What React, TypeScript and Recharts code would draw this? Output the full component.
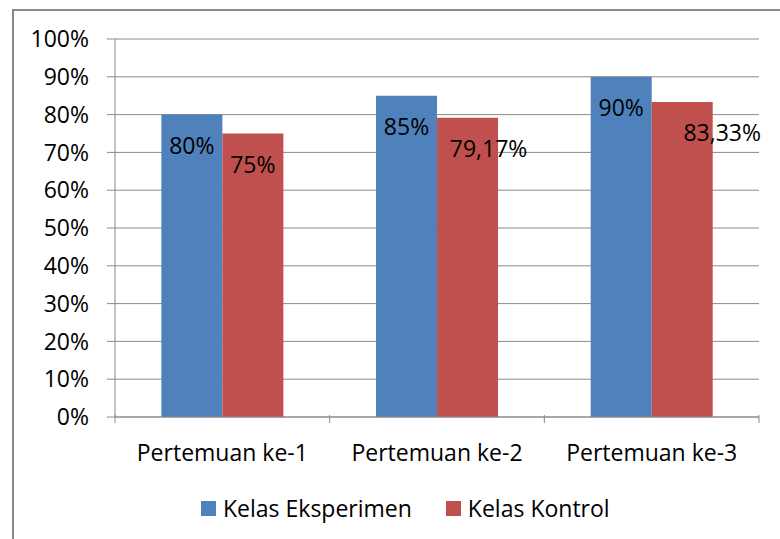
import { BarChart, Bar, XAxis, YAxis, CartesianGrid, Legend, LabelList } from 'recharts';

const categories = ['Pertemuan ke-1', 'Pertemuan ke-2', 'Pertemuan ke-3'];
const kelasEksperimen = [80, 85, 90];
const kelasKontrol = [75, 79.17, 83.33];
const yTicks = [0, 10, 20, 30, 40, 50, 60, 70, 80, 90, 100];

const BLUE = '#4F81BD';
const RED = '#C0504D';
const GRID = '#8a8a8a';
const FONT = '"Open Sans", sans-serif';
const FS = 23;

// label nudges to the right, per category (the control labels drift in the original)
const kontrolLabelShift = [0, 21, 40];

const data = categories.map((name, i) => ({
  name,
  eksperimen: kelasEksperimen[i],
  kontrol: kelasKontrol[i],
}));

function formatPct(v: number): string {
  return Number.isInteger(v) ? `${v}%` : `${v.toFixed(2).replace('.', ',')}%`;
}

function makeLabel(shift: number[] | null) {
  return function BarLabel(props: any) {
    const { x, y, width, value, index } = props;
    const dx = shift ? shift[index] : 0;
    return (
      <text
        x={Number(x) + Number(width) / 2 + dx}
        y={Number(y) + 30}
        textAnchor="middle"
        dominantBaseline="central"
        fontSize={FS}
        fontFamily={FONT}
        fill="#000"
      >
        {formatPct(value)}
      </text>
    );
  };
}

function CategoryTick(props: any) {
  const { x, y, payload, index, width, visibleTicksCount } = props;
  const band = width / visibleTicksCount;
  const axisY = y - 10;
  return (
    <g>
      <line x1={x - band / 2} x2={x - band / 2} y1={axisY} y2={axisY + 8} stroke={GRID} />
      {index === visibleTicksCount - 1 && (
        <line x1={x + band / 2} x2={x + band / 2} y1={axisY} y2={axisY + 8} stroke={GRID} />
      )}
      <text
        x={x}
        y={452}
        textAnchor="middle"
        dominantBaseline="central"
        fontSize={FS}
        fontFamily={FONT}
        fill="#000"
      >
        {payload.value}
      </text>
    </g>
  );
}

function LegendContent() {
  const items = [
    { label: 'Kelas Eksperimen', color: BLUE },
    { label: 'Kelas Kontrol', color: RED },
  ];
  return (
    <div style={{ display: 'flex', alignItems: 'center', fontFamily: FONT, fontSize: FS, color: '#000' }}>
      {items.map((it) => (
        <div key={it.label} style={{ display: 'flex', alignItems: 'center', marginRight: 34 }}>
          <span style={{ display: 'inline-block', width: 15, height: 15, background: it.color, marginRight: 7 }} />
          <span style={{ lineHeight: '30px' }}>{it.label}</span>
        </div>
      ))}
    </div>
  );
}

export default function App() {
  return (
    <div style={{ position: 'absolute', left: 0, top: 0, width: 780, height: 539, background: '#fff', overflow: 'hidden' }}>
      <div
        style={{
          position: 'absolute',
          left: 12,
          top: 9,
          width: 800,
          height: 600,
          border: `2px solid ${GRID}`,
        }}
      />
      <BarChart
        width={780}
        height={539}
        data={data}
        margin={{ top: 39, right: 21, bottom: 62, left: 0 }}
        barCategoryGap="21.6%"
        barGap={0}
        style={{ position: 'absolute', left: 0, top: 0 }}
      >
        <CartesianGrid vertical={false} stroke={GRID} strokeWidth={1} />
        <YAxis
          width={115}
          domain={[0, 100]}
          ticks={yTicks}
          interval={0}
          tickFormatter={(v: number) => `${v}%`}
          axisLine={{ stroke: GRID }}
          tickLine={{ stroke: GRID }}
          tickSize={8}
          tickMargin={18}
          tick={{ fill: '#000', fontSize: FS, fontFamily: FONT }}
        />
        <XAxis
          dataKey="name"
          height={60}
          axisLine={{ stroke: GRID }}
          tickLine={false}
          tick={<CategoryTick />}
          interval={0}
        />
        <Legend
          verticalAlign="middle"
          align="center"
          layout="horizontal"
          wrapperStyle={{ left: 201, top: 493, width: 570 }}
          content={<LegendContent />}
        />
        <Bar dataKey="eksperimen" name="Kelas Eksperimen" fill={BLUE} isAnimationActive={false}>
          <LabelList dataKey="eksperimen" content={makeLabel(null)} />
        </Bar>
        <Bar dataKey="kontrol" name="Kelas Kontrol" fill={RED} isAnimationActive={false}>
          <LabelList dataKey="kontrol" content={makeLabel(kontrolLabelShift)} />
        </Bar>
      </BarChart>
    </div>
  );
}
